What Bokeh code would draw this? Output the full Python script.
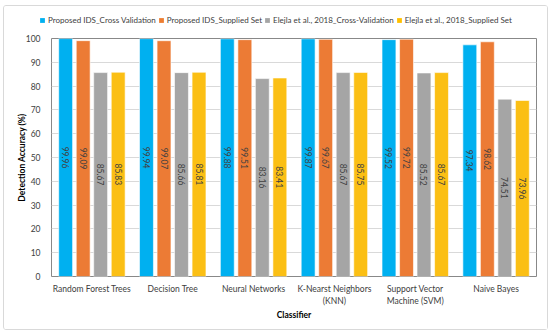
from bokeh.plotting import figure
from bokeh.layouts import column
from bokeh.models import ColumnDataSource, FactorRange, Legend, LegendItem, LabelSet
from bokeh.core.properties import value
from bokeh.transform import dodge
from bokeh.embed import file_html
from bokeh.resources import INLINE

classifiers = ["Random Forest Trees", "Decision Tree", "Neural Networks",
               "K-Nearst Neighbors\n(KNN)", "Support Vector\nMachine (SVM)", "Naive Bayes"]
series_names = ["Proposed IDS_Cross Validation", "Proposed IDS_Supplied Set",
                "Elejla et al., 2018_Cross-Validation", "Elejla et al., 2018_Supplied Set"]
prop_cv = [99.96, 99.94, 99.88, 99.87, 99.52, 97.34]
prop_ss = [99.09, 99.07, 99.51, 99.67, 99.72, 98.62]
elejla_cv = [85.67, 85.66, 83.16, 85.67, 85.52, 74.51]
elejla_ss = [85.83, 85.81, 83.41, 85.75, 85.67, 73.96]
y_ticks = [0, 10, 20, 30, 40, 50, 60, 70, 80, 90, 100]

FONT = "Lato"
FS = "8.5px"
series = [prop_cv, prop_ss, elejla_cv, elejla_ss]
colors = ["#00B0F0", "#EC7B35", "#A5A5A5", "#FBBF14"]
legend_colors = ["#00B0F0", "#ED7D31", "#A5A5A5", "#FFC000"]
offsets = [-0.325, -0.108, 0.108, 0.325]

data = {"cls": classifiers}
for i, s in enumerate(series):
    data[f"s{i}"] = s
    data[f"h{i}"] = [v / 2 for v in s]
    data[f"t{i}"] = [f"{v:.2f}" for v in s]
source = ColumnDataSource(data)

# legend strip on top
lg = figure(width=543, height=27, x_range=(0, 1), y_range=(0, 1), title=None,
            output_backend="svg", toolbar_location=None,
            x_axis_location=None, y_axis_location=None,
            min_border_left=0, min_border_right=0, min_border_top=0, min_border_bottom=0)
lg.grid.visible = False
lg.outline_line_color = None
lg_renderers = [lg.vbar(x=[-10], top=[-10], width=0.1, fill_color=legend_colors[i],
                        line_color=None) for i in range(4)]
items = [LegendItem(label=series_names[i], renderers=[lg_renderers[i]]) for i in range(4)]
legend = Legend(items=items, orientation="horizontal", location=(35, 8),
                glyph_width=6, glyph_height=6, label_height=10, label_standoff=3,
                spacing=2, padding=0, margin=0, border_line_color=None,
                background_fill_alpha=0, label_text_font=FONT, label_text_font_size="8px",
                label_text_color="#404040")
lg.add_layout(legend, "center")

p = figure(x_range=FactorRange(*classifiers, range_padding=0), y_range=(0, 100),
           width=543, height=296, output_backend="svg", toolbar_location=None, title=None,
           min_border_left=47, min_border_right=11, min_border_top=5, min_border_bottom=53)

for fig in (lg, p):
    try:
        fig.frame_align = False
    except Exception:
        pass

for i in range(4):
    p.vbar(x=dodge("cls", offsets[i], range=p.x_range), top=f"s{i}", width=0.172,
           source=source, fill_color=colors[i], line_color="white", line_width=0.6)
    lbl = LabelSet(x=dodge("cls", offsets[i], range=p.x_range), y=f"h{i}", text=f"t{i}",
                   source=source, angle=-1.5708, text_align="center", text_baseline="middle",
                   text_font=value(FONT), text_font_size=value(FS), text_color="#404040")
    p.add_layout(lbl)

p.outline_line_color = "#888888"
p.outline_line_width = 1
p.xgrid.grid_line_color = None
p.ygrid.grid_line_color = "#d9d9d9"
p.yaxis.ticker = y_ticks
for ax in (p.xaxis[0], p.yaxis[0]):
    ax.axis_line_color = None
    ax.major_tick_line_color = None
    ax.minor_tick_line_color = None
    ax.major_label_text_font = FONT
    ax.major_label_text_font_size = FS
    ax.major_label_text_color = "#404040"
    ax.axis_label_text_font = FONT
    ax.axis_label_text_font_size = FS
    ax.axis_label_text_font_style = "bold"
    ax.axis_label_text_color = "#000000"
p.yaxis.axis_label = "Detection Accuracy (%)"
p.xaxis.axis_label = "Classifier"
p.yaxis.major_label_standoff = 5
p.yaxis.axis_label_standoff = -4
p.xaxis.major_label_standoff = 1
p.xaxis.axis_label_standoff = 1

layout = column(lg, p, spacing=0)
layout.styles = {"border": "1px solid #d9d9d9", "border-radius": "3px",
                 "margin-left": "3px", "margin-top": "5px"}

open("out.html", "w").write(file_html(layout, INLINE))
